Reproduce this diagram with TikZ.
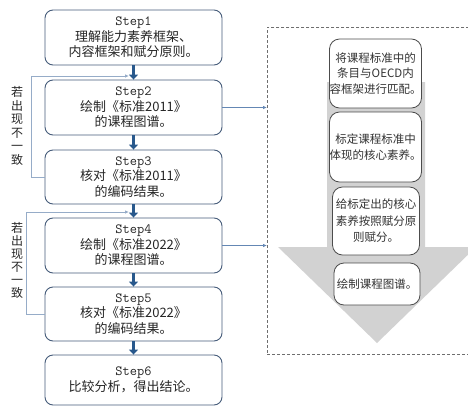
\documentclass[tikz,border=0pt]{standalone}
\usepackage{fontspec}
\newfontfamily\cjk{Noto Sans CJK SC}
\usetikzlibrary{arrows.meta}
\definecolor{boxblue}{RGB}{70,92,122}
\definecolor{arrblue}{RGB}{40,88,140}
\definecolor{fbblue}{RGB}{150,172,200}
\definecolor{conblue}{RGB}{100,135,180}
\definecolor{agray}{RGB}{210,210,210}
\definecolor{dgray}{RGB}{110,110,110}
\newcommand{\stepfont}{\ttfamily\fontsize{14}{15.5}\selectfont}
\tikzset{
  stepbox/.style={draw=boxblue, line width=0.9pt, rounded corners=8pt, fill=white,
    minimum width=177pt, align=center, inner sep=0pt,
    font=\cjk\fontsize{13}{15.5}\selectfont, text=black!85},
  rbox/.style={draw=black!70, line width=0.8pt, rounded corners=10pt, fill=white,
    minimum width=87pt, align=center, inner sep=0pt,
    font=\cjk\fontsize{11.5}{15.5}\selectfont, text=black!80},
  downarr/.style={draw=arrblue, line width=3.5pt, -{Triangle[width=9pt,length=5pt]}},
  fbline/.style={draw=fbblue, line width=0.9pt, -{Latex[length=4pt,width=3.5pt]}},
  conline/.style={draw=conblue, line width=0.8pt, -{Latex[length=4pt,width=3.5pt]}},
  vlabel/.style={align=center, inner sep=0pt, text=black!85}
}
\begin{document}
\begin{tikzpicture}[x=1pt,y=-1pt]
\useasboundingbox (0,0) rectangle (468,407);
\clip (0,0) rectangle (468,407);
% dashed frame and gray arrow
\node[draw=dgray, line width=0.8pt, dash pattern=on 3pt off 2pt, minimum width=220pt, minimum height=327pt, anchor=north west, inner sep=0pt] (dbox) at (267,27) {};
\fill[agray] (327,82) -- (425,82) -- (425,247) -- (476,247) -- (377,343) -- (278,247) -- (327,247) -- cycle;
% right boxes
\node[rbox, minimum height=69pt] (r1) at (375.5,73.5) {将课程标准中的\\条目与OECD内\\容框架进行匹配。};
\node[rbox, minimum height=70pt] (r2) at (375.5,147) {标定课程标准中\\体现的核心素养。};
\node[rbox, minimum height=68pt, font=\cjk\fontsize{11.5}{16.5}\selectfont] (r3) at (376,221) {给标定出的核心\\素养按照赋分原\\则赋分。};
\node[rbox, minimum height=42pt, minimum width=86pt] (r4) at (377,284) {绘制课程图谱。};
% step boxes
\node[stepbox, minimum height=55pt] (s1) at (133.5,37.5) {{\stepfont Step1}\\理解能力素养框架、\\内容框架和赋分原则。};
\node[stepbox, minimum height=55pt] (s2) at (133.5,107.5) {{\stepfont Step2}\\绘制《标准2011》\\的课程图谱。};
\node[stepbox, minimum height=54pt] (s3) at (133.5,177) {{\stepfont Step3}\\核对《标准2011》\\的编码结果。};
\node[stepbox, minimum height=55pt] (s4) at (133.5,245.5) {{\stepfont Step4}\\绘制《标准2022》\\的课程图谱。};
\node[stepbox, minimum height=54pt] (s5) at (133.5,314) {{\stepfont Step5}\\核对《标准2022》\\的编码结果。};
\node[stepbox, minimum height=50pt] (s6) at (133.5,380) {{\stepfont Step6}\\比较分析，得出结论。};
% down arrows
\draw[downarr] (s1.south) -- (s2.north);
\draw[downarr] (s2.south) -- (s3.north);
\draw[downarr] (s3.south) -- (s4.north);
\draw[downarr] (s4.south) -- (s5.north);
\draw[downarr] (s5.south) -- (s6.north);
% feedback loops
\coordinate (f1) at (129,76);
\coordinate (f2) at (129,212);
\draw[fbline] (s3.west) -- ++(-13,0) |- (f1);
\draw[fbline] (s5.west) -- ++(-18,0) |- (f2);
\node[vlabel, font=\cjk\fontsize{12}{13.6}\selectfont] (l1) at (17,126) {若\\出\\现\\不\\一\\致};
\node[vlabel, font=\cjk\fontsize{12}{13}\selectfont] (l2) at (17,260.5) {若\\出\\现\\不\\一\\致};
% connectors to dashed frame
\draw[conline] (s2.east) -- (s2.east -| dbox.west);
\draw[conline] (s4.east) -- (s4.east -| dbox.west);
\end{tikzpicture}
\end{document}
